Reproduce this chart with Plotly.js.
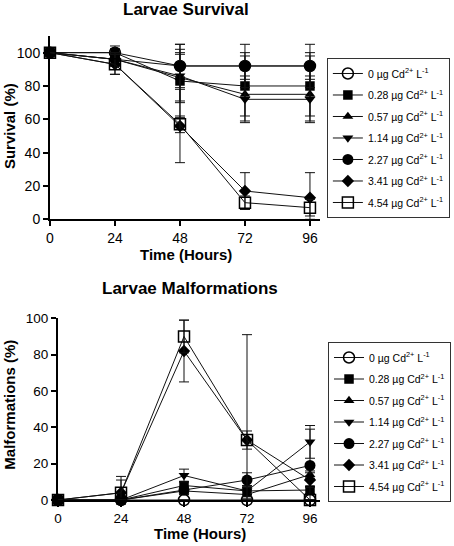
<!DOCTYPE html>
<html>
<head>
<meta charset="utf-8">
<script src="https://cdn.plot.ly/plotly-3.0.1.min.js"></script>
<style>html,body{margin:0;padding:0;background:#fff;}#chart{width:454px;height:546px;}</style>
</head>
<body>
<div id="chart"></div>
<script>
// ---- data ----
const times = [0, 24, 48, 72, 96];
const doseLabels = [
  "0 µg Cd<sup>2+</sup> L<sup>-1</sup>",
  "0.28 µg Cd<sup>2+</sup> L<sup>-1</sup>",
  "0.57 µg Cd<sup>2+</sup> L<sup>-1</sup>",
  "1.14 µg Cd<sup>2+</sup> L<sup>-1</sup>",
  "2.27 µg Cd<sup>2+</sup> L<sup>-1</sup>",
  "3.41 µg Cd<sup>2+</sup> L<sup>-1</sup>",
  "4.54 µg Cd<sup>2+</sup> L<sup>-1</sup>"
];
const xTicks = [0, 24, 48, 72, 96];
const yTicks = [0, 20, 40, 60, 80, 100];

// Survival (%) mean and SD
const surv0   = [100, 100, 92, 92, 92];
const surv028 = [100, 100, 83, 80, 80];
const surv057 = [100, 96, 85, 75, 75];
const surv114 = [100, 96, 86, 72, 72];
const surv227 = [100, 96, 92, 92, 92];
const surv341 = [100, 93, 56, 17, 13];
const surv454 = [100, 93, 57, 10, 7];
const survErr0   = [0, 0, 8, 8, 8];
const survErr028 = [0, 4, 22, 18, 18];
const survErr057 = [0, 4, 14, 16, 16];
const survErr114 = [0, 4, 16, 14, 14];
const survErr227 = [0, 4, 13, 13, 13];
const survErr341 = [0, 6, 22, 11, 15];
const survErr454 = [0, 6, 5, 4, 5];

// Malformations (%) mean and SD
const mal0   = [0, 0, 0, 0, 0];
const mal028 = [0, 0, 8, 5, 5.5];
const mal057 = [0, 0, 5, 3, 14];
const mal114 = [0, 0, 13.5, 5, 32];
const mal227 = [0, 0, 5.5, 11, 19];
const mal341 = [0, 4, 82, 33, 11];
const mal454 = [0, 4, 90, 33, 0];
const malErr0   = [0, 0, 0, 0, 0];
const malErr028 = [0, 0, 2, 2, 2];
const malErr057 = [0, 0, 2, 2, 2];
const malErr114 = [0, 0, 3.5, 3, 9];
const malErr227 = [0, 0, 2, 4, 20];
const malErr341 = [0, 7, 17, 5, 4];
const malErr454 = [0, 9, 9, 58, 0];

// ---- styles ----
const symbols = ["circle-open", "square", "triangle-up", "triangle-down", "circle", "diamond", "square-open"];
const sizes = [11, 9.5, 9.5, 9.5, 11, 9.5, 11];

const survSeries = [surv0, surv028, surv057, surv114, surv227, surv341, surv454];
const survErrs = [survErr0, survErr028, survErr057, survErr114, survErr227, survErr341, survErr454];
const malSeries = [mal0, mal028, mal057, mal114, mal227, mal341, mal454];
const malErrs = [malErr0, malErr028, malErr057, malErr114, malErr227, malErr341, malErr454];

function mk(y, err, i, xa, ya, leg, grp) {
  const open = symbols[i].indexOf("open") >= 0;
  return {
    x: times, y: y, xaxis: xa, yaxis: ya,
    type: "scatter", mode: "lines+markers",
    name: doseLabels[i], legend: leg, legendgroup: grp + i,
    cliponaxis: false,
    line: {color: "#111", width: 1},
    marker: {symbol: symbols[i], size: sizes[i], color: "#000",
             line: {color: "#000", width: open ? 1.5 : 0}},
    error_y: {type: "data", array: err, arrayminus: err.map((e, k) => Math.min(e, y[k])),
              visible: true, color: "#111", thickness: 1, width: 5}
  };
}

const traces = [];
for (let i = 0; i < 7; i++) traces.push(mk(survSeries[i], survErrs[i], i, "x", "y", "legend", "s"));
for (let i = 0; i < 7; i++) traces.push(mk(malSeries[i], malErrs[i], i, "x2", "y2", "legend2", "m"));

const fontFam = "Liberation Sans, Arial, sans-serif";
function axis(extra) {
  return Object.assign({
    showline: true, linewidth: 2, linecolor: "#000",
    ticks: "outside", ticklen: 5, tickwidth: 2, tickcolor: "#000",
    showgrid: false, zeroline: false, fixedrange: true,
    tickfont: {family: fontFam, size: 14, color: "#000"}
  }, extra);
}

const legendCommon = {
  xanchor: "left", yanchor: "top",
  bordercolor: "#333", borderwidth: 1, bgcolor: "#fff",
  font: {family: fontFam, size: 10.5, color: "#000"},
  tracegroupgap: 2.5, itemwidth: 30
};

const titleFont = {family: fontFam, size: 17, color: "#000", weight: "bold"};
const axTitleFont = {family: fontFam, size: 15, color: "#000", weight: "bold"};

const layout = {
  width: 454, height: 546,
  margin: {l: 0, r: 0, t: 0, b: 0},
  paper_bgcolor: "#fff", plot_bgcolor: "#fff",
  font: {family: fontFam, color: "#000"},
  showlegend: true,
  xaxis: axis({domain: [0.1101, 0.7048], range: [0, 99.7], anchor: "y", tickvals: xTicks}),
  yaxis: axis({domain: [0.5983, 0.9341], range: [0, 110], anchor: "x", tickvals: yTicks}),
  xaxis2: axis({domain: [0.1278, 0.7048], range: [0, 99.8], anchor: "y2", tickvals: xTicks,
                tickfont: {family: fontFam, size: 13.5, color: "#000"}}),
  yaxis2: axis({domain: [0.0842, 0.4170], range: [0, 100], anchor: "x2", tickvals: yTicks,
                tickfont: {family: fontFam, size: 13.5, color: "#000"}}),
  legend: Object.assign({x: 0.720, y: 0.8938}, legendCommon),
  legend2: Object.assign({x: 0.7225, y: 0.3736}, legendCommon),
  annotations: [
    {text: "<b>Larvae Survival</b>", xref: "paper", yref: "paper", x: 0.41, y: 0.982,
     xanchor: "center", yanchor: "middle", showarrow: false, font: titleFont},
    {text: "<b>Time (Hours)</b>", xref: "paper", yref: "paper", x: 0.41, y: 0.533,
     xanchor: "center", yanchor: "middle", showarrow: false, font: axTitleFont},
    {text: "<b>Survival (%)</b>", xref: "paper", yref: "paper", x: 0.0198, y: 0.769,
     xanchor: "center", yanchor: "middle", textangle: -90, showarrow: false, font: axTitleFont},
    {text: "<b>Larvae Malformations</b>", xref: "paper", yref: "paper", x: 0.4185, y: 0.4707,
     xanchor: "center", yanchor: "middle", showarrow: false, font: titleFont},
    {text: "<b>Time (Hours)</b>", xref: "paper", yref: "paper", x: 0.44, y: 0.022,
     xanchor: "center", yanchor: "middle", showarrow: false, font: axTitleFont},
    {text: "<b>Malformations (%)</b>", xref: "paper", yref: "paper", x: 0.021, y: 0.258,
     xanchor: "center", yanchor: "middle", textangle: -90, showarrow: false, font: axTitleFont}
  ]
};

Plotly.newPlot("chart", traces, layout, {staticPlot: true, displayModeBar: false});
</script>
</body>
</html>
